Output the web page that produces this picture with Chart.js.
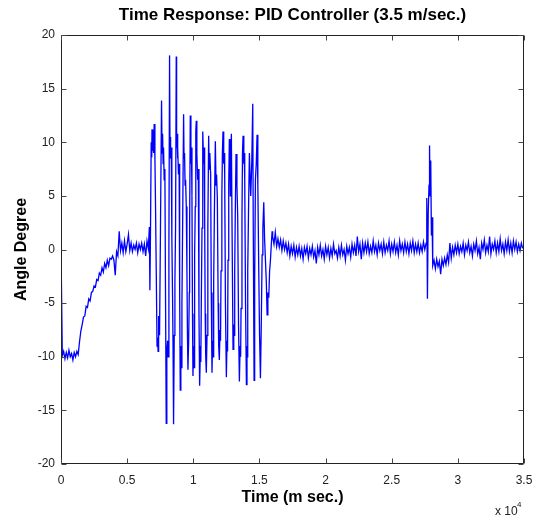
<!DOCTYPE html>
<html><head><meta charset="utf-8">
<script src="https://cdn.jsdelivr.net/npm/chart.js@4.4.0/dist/chart.umd.min.js"></script>
<style>html,body{margin:0;padding:0;background:#fff}</style>
</head><body>
<canvas id="c" width="545" height="520"></canvas>
<script>
// ---- data (time in ms, angle in degrees) ----
const sampleStepMs = 100;

// 0 .. 6600 ms : initial offset, ramp and first settle (uniformly sampled)
const startTime = 0;
const startAngles = [
  0.2, -9.9, -9.5, -10.2, -9.6, -10.1, -9.4, -10.0, -9.7, -10.3,
  -9.6, -10.0, -9.5, -9.8, -8.6, -7.6, -7.0, -6.3, -6.2, -5.3,
  -5.4, -4.6, -4.8, -4.0, -3.9, -3.4, -3.5, -2.8, -2.9, -2.2,
  -2.4, -1.7, -2.1, -1.3, -1.7, -1.0, -1.5, -0.8, -0.9, -0.6,
  -1.0, -2.4, -0.2, -0.6, 1.7, -0.1, 0.6, -0.3, 0.8, -0.2,
  0.5, 1.4, -0.1, 0.6, -0.2, 0.4, 0.0, 0.6, -0.3, 0.5,
  0.0, 0.6, -0.2, 0.5, -0.6, 0.8, 0.1
];

// oscillation phase: [time ms, angle]
const oscillationSamples = [
  [6680, 2.1], [6720, -3.8], [6760, 1.0], [6818, 10.0], [6860, 8.6], [6880, 11.2], [6920, 9.2], [6945, 10.4], [7000, 9.0], [7045, 11.7],
  [7100, 8.5], [7146, 4.0], [7200, -2.0], [7260, -9.0], [7298, -8.2], [7340, -9.5], [7380, -6.2], [7449, -8.0], [7520, 2.0], [7600, 13.9],
  [7640, 9.0], [7680, 10.8], [7720, 8.0], [7752, 9.5], [7800, 6.5], [7853, 7.5], [7900, -4.0], [7955, -16.2], [8000, -9.5], [8056, -8.5],
  [8100, -10.0], [8157, 0.0], [8207, 18.1], [8240, 9.0], [8270, 10.5], [8300, 8.5], [8333, 9.5], [8380, 1.0], [8434, -4.5], [8470, -9.0],
  [8510, -16.3], [8560, -8.0], [8611, -3.0], [8660, 2.0], [8712, 18.0], [8740, 9.5], [8770, 10.8], [8800, 8.5], [8838, 9.5], [8880, 7.0],
  [8930, 8.0], [8970, -4.0], [9015, -13.1], [9060, -9.0], [9100, -11.0], [9141, -5.0], [9200, 3.0], [9268, 12.6], [9300, 8.5], [9340, 9.0],
  [9380, 6.0], [9419, 6.5], [9470, 4.0], [9520, -2.0], [9560, -8.0], [9596, -11.2], [9650, -8.5], [9700, -4.0], [9722, 2.0], [9773, 12.5],
  [9820, 8.0], [9860, 9.5], [9899, 5.0], [9940, -6.0], [9975, -11.8], [10030, -9.0], [10060, -11.0], [10101, -0.5], [10150, 4.0], [10190, 11.0],
  [10227, 12.0], [10270, 9.0], [10328, 6.5], [10380, 7.5], [10430, -6.0], [10480, -12.7], [10540, -9.0], [10570, -10.5], [10606, -5.0], [10660, 2.0],
  [10700, 9.5], [10732, 11.0], [10780, 8.0], [10820, 9.5], [10858, 3.5], [10900, -6.0], [10940, -10.0], [10985, -11.5], [11040, -8.0], [11100, 2.0],
  [11162, 10.6], [11200, 7.5], [11250, 9.0], [11313, 7.0], [11360, -4.0], [11414, -11.5], [11460, -8.5], [11500, -10.0], [11541, -3.0], [11600, 4.0],
  [11667, 10.1], [11720, 6.0], [11760, 7.0], [11818, 4.8], [11880, -5.0], [11920, -9.0], [11970, -10.3], [12020, -7.5], [12060, -8.5], [12096, -2.0],
  [12160, 5.0], [12200, 9.0], [12247, 11.0], [12300, 8.0], [12340, 9.0], [12374, 7.0], [12430, -5.0], [12500, -11.9], [12550, -8.5], [12590, -9.5],
  [12626, -1.0], [12680, 6.0], [12727, 10.3], [12770, 8.0], [12803, 5.0], [12840, 8.0], [12879, 10.8], [12930, 2.0], [13005, -9.3], [13060, -7.0],
  [13100, -8.0], [13131, -2.0], [13180, 4.0], [13232, 8.9], [13300, 6.0], [13359, 3.0], [13420, -7.0], [13485, -12.3], [13540, -9.0], [13580, -10.0],
  [13611, -5.5], [13680, 3.0], [13720, 9.0], [13763, 10.6], [13820, 8.0], [13850, 9.0], [13889, 6.5], [13950, -5.0], [14015, -12.6], [14060, -9.0],
  [14090, -10.0], [14116, -2.0], [14180, 4.0], [14242, 9.0], [14300, 6.5], [14343, 5.0], [14420, 8.0], [14495, 13.6], [14530, 3.0], [14596, -12.2],
  [14640, -3.0], [14697, 6.5], [14760, 8.0], [14823, 10.7], [14880, 6.0], [14950, -2.0], [15010, -8.0], [15076, -12.0], [15140, -7.0], [15202, -0.5],
  [15260, 2.0], [15328, 4.4], [15390, 1.0], [15455, -1.0], [15520, -3.0], [15581, -6.1], [15640, -4.0], [15707, -4.5], [15770, -2.0], [15833, -1.0],
  [15900, 0.5], [15960, 1.7]
];

// 16000 .. 27500 ms : settled (uniformly sampled)
const settleTime = 16000;
const settleAngles = [
  1.2, 0.5, 1.6, 0.3, 1.0, 0.2, 0.9, -0.1, 0.8, 0.0,
  0.6, -0.3, 0.5, -0.6, 0.3, -0.4, 0.4, -0.7, 0.2, -0.5,
  0.3, -0.6, 0.1, -0.9, 0.2, -0.4, 0.3, -0.8, 0.1, -0.5,
  0.3, -0.7, -0.1, -1.3, 0.2, -0.5, 0.4, -0.6, 0.0, -0.9,
  0.3, -0.5, 0.2, -0.8, 0.1, -0.6, 0.5, -0.4, -0.1, -0.8,
  0.2, -0.6, 0.4, -0.5, 0.0, -1.0, 0.3, -0.4, 0.2, -0.7,
  0.5, -0.3, 0.4, -0.6, 1.2, -0.2, 0.5, -0.9, 0.6, -0.3,
  0.6, -0.2, 0.7, -0.4, 0.3, -0.3, 0.8, -0.2, 0.4, -0.5,
  0.6, -0.1, 0.5, -0.4, 0.7, -0.3, 0.4, -0.1, 0.8, -0.4,
  0.5, -0.2, 0.7, -0.3, 0.4, -0.5, 0.8, -0.1, 0.5, -0.3,
  0.7, -0.2, 0.5, -0.4, 0.6, -0.1, 0.8, -0.3, 0.5, -0.2,
  0.6, -0.3, 0.4, -0.2, 0.7, 0.0
];

// disturbance spike near 27.7 s: [time ms, angle]
const spikeSamples = [
  [27600, 0.6], [27650, 4.8], [27700, -4.6], [27760, 3.5], [27820, 6.0], [27860, 9.7],
  [27900, 5.0], [27950, 8.3], [28000, 1.3], [28050, 3.0], [28100, -1.5]
];

// 28200 .. 34900 ms : recovery and tail (uniformly sampled)
const tailTime = 28200;
const tailAngles = [
  -1.0, -1.8, -0.9, -1.6, -1.1, -2.3, -0.9, -1.5, -0.8, -1.4,
  -0.5, -1.2, 0.6, -0.8, 0.2, -0.5, 0.4, -0.3,
  0.5, -0.4, 0.3, -0.2, 0.6, -0.5, 0.4, -0.1, 0.7, -0.3,
  0.3, -0.6, 0.5, -0.1, 0.8, -0.4, 0.2, -0.9, 0.6, 0.0,
  0.9, -0.3, 0.4, -0.2, 1.2, -0.4, 0.5, 0.0, 0.8, -0.3,
  0.6, -0.2, 1.0, -0.1, 0.5, -0.4, 0.7, -0.1, 0.9, -0.2,
  0.6, -0.3, 0.8, 0.0, 0.7, -0.2, 0.5, -0.1, 0.6, 0.1
];

const xTickStep = 5000;
const yTickStep = 5;
const xRange = [0, 35000];
const yRange = [-20, 20];
const titleText = 'Time Response: PID Controller (3.5 m/sec.)';
const xTitle = 'Time (m sec.)';
const yTitle = 'Angle Degree';

// ---- build points ----
const points = [];
function addUniform(t0, arr){ arr.forEach((v,i)=>points.push({x: t0 + i*sampleStepMs, y: v})); }
function addPairs(pairs){ pairs.forEach(p=>points.push({x: p[0], y: p[1]})); }
addUniform(startTime, startAngles);
addPairs(oscillationSamples);
addUniform(settleTime, settleAngles);
addPairs(spikeSamples);
addUniform(tailTime, tailAngles);

const FONT = "'Liberation Sans', Arial, Helvetica, sans-serif";

const framePlugin = {
  id: 'frame',
  afterDraw(chart){
    const {ctx, chartArea: a, scales: {x, y}} = chart;
    ctx.save();
    ctx.strokeStyle = '#222';
    ctx.lineWidth = 1;
    const L = Math.round(a.left)+0.5, R = Math.round(a.right)-0.5, T = Math.round(a.top)+0.5, B = Math.round(a.bottom)-0.5;
    ctx.beginPath();
    ctx.rect(L, T, R-L, B-T);
    ctx.stroke();
    ctx.strokeStyle = '#444';
    ctx.beginPath();
    x.ticks.forEach(tk => {
      const px = Math.round(x.getPixelForValue(tk.value)) + 0.5;
      ctx.moveTo(px, B); ctx.lineTo(px, B-5);
      ctx.moveTo(px, T); ctx.lineTo(px, T+5);
    });
    y.ticks.forEach(tk => {
      const py = Math.round(y.getPixelForValue(tk.value)) + 0.5;
      ctx.moveTo(L, py); ctx.lineTo(L+5, py);
      ctx.moveTo(R, py); ctx.lineTo(R-5, py);
    });
    ctx.stroke();
    // title centred over the axes
    ctx.fillStyle = '#000';
    ctx.font = 'bold 17px ' + FONT;
    ctx.textAlign = 'center';
    ctx.textBaseline = 'middle';
    ctx.fillText(titleText, (a.left + a.right) / 2, 15);
    // exponent label
    ctx.fillStyle = '#222';
    ctx.font = '12px ' + FONT;
    ctx.textBaseline = 'alphabetic';
    ctx.textAlign = 'left';
    ctx.fillText('x 10', 495, 515);
    ctx.font = '8px ' + FONT;
    ctx.fillText('4', 517, 507);
    ctx.restore();
  }
};

new Chart(document.getElementById('c'), {
  type: 'line',
  data: { datasets: [{
    data: points,
    borderColor: '#0000ff',
    borderWidth: 1.3,
    pointRadius: 0,
    tension: 0,
    fill: false
  }]},
  options: {
    responsive: false,
    animation: false,
    parsing: false,
    normalized: true,
    layout: { padding: { left: 0, right: 21, top: 35, bottom: 0 } },
    plugins: {
      legend: { display: false },
      tooltip: { enabled: false },
      title: { display: false }
    },
    scales: {
      x: {
        type: 'linear', min: xRange[0], max: xRange[1],
        grid: { display: false, drawTicks: false },
        border: { display: false },
        ticks: { stepSize: xTickStep, color: '#222', padding: 9,
          font: { family: FONT, size: 12 },
          callback: v => String(v / 10000) },
        title: { display: true, text: xTitle, color: '#000',
          font: { family: FONT, size: 16, weight: 'bold', lineHeight: 1.2 },
          padding: { top: 0, bottom: 13 } },
        afterFit: s => { s.height = 56; }
      },
      y: {
        type: 'linear', min: yRange[0], max: yRange[1],
        grid: { display: false, drawTicks: false },
        border: { display: false },
        ticks: { stepSize: yTickStep, color: '#222', padding: 6,
          font: { family: FONT, size: 12 } },
        title: { display: true, text: yTitle, color: '#000',
          font: { family: FONT, size: 16, weight: 'bold', lineHeight: 1.2 },
          padding: { top: 12, bottom: 0 } },
        afterFit: s => { s.width = 61; }
      }
    }
  },
  plugins: [framePlugin]
});
</script>
</body></html>
